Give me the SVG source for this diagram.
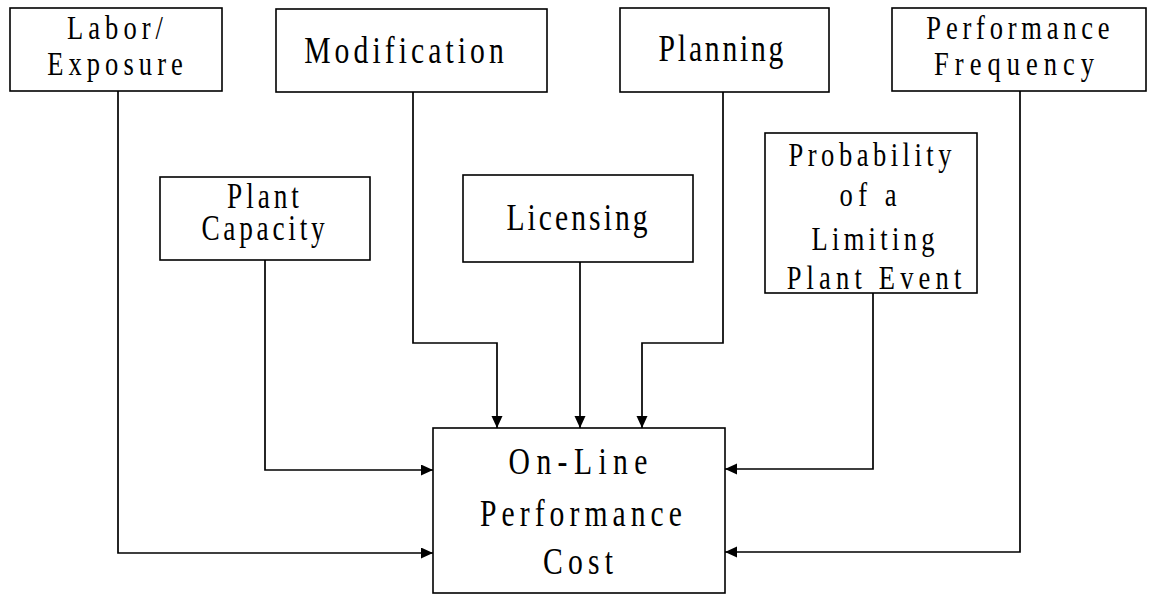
<svg xmlns="http://www.w3.org/2000/svg" width="1152" height="595" viewBox="0 0 1152 595">
  <style>
    .box { fill: #fff; stroke: #000; stroke-width: 1.6; }
    .lbl { font-family: "Liberation Serif", "Times New Roman", serif; fill: #000; text-anchor: middle; }
    .s34 { font-size: 34px; }
    .s35 { font-size: 35px; }
    .s38 { font-size: 38px; }
    .wire { fill: none; stroke: #000; stroke-width: 1.7; marker-end: url(#arrow); }
  </style>
  <defs>
    <marker id="arrow" markerUnits="userSpaceOnUse" markerWidth="13" markerHeight="12" refX="12" refY="5.5" orient="auto">
      <path d="M0,0 L12,5.5 L0,11 z" fill="#000"/>
    </marker>
  </defs>
  <rect width="1152" height="595" fill="#fff"/>

  <!-- connectors -->
  <g id="connectors">
    <path class="wire" d="M118,91 V553 H433"/>
    <path class="wire" d="M413,92 V343 H497 V428"/>
    <path class="wire" d="M723,92 V343 H642 V428"/>
    <path class="wire" d="M580,262 V428"/>
    <path class="wire" d="M265,260 V470 H433"/>
    <path class="wire" d="M873,293 V469 H725"/>
    <path class="wire" d="M1020,91 V552 H725"/>
  </g>

  <g id="labor-exposure">
    <rect class="box" x="10" y="8" width="212" height="83"/>
    <text class="lbl s34" transform="translate(115 39) scale(0.78 1)" textLength="123" lengthAdjust="spacing">Labor/</text>
    <text class="lbl s34" transform="translate(115 75) scale(0.78 1)" textLength="174" lengthAdjust="spacing">Exposure</text>
  </g>

  <g id="modification">
    <rect class="box" x="276" y="9" width="271" height="83"/>
    <text class="lbl s38" transform="translate(404 63) scale(0.78 1)" textLength="256" lengthAdjust="spacing">Modification</text>
  </g>

  <g id="planning">
    <rect class="box" x="620" y="8" width="209" height="84"/>
    <text class="lbl s38" transform="translate(721 61) scale(0.78 1)" textLength="160" lengthAdjust="spacing">Planning</text>
  </g>

  <g id="performance-frequency">
    <rect class="box" x="892" y="8" width="254" height="83"/>
    <text class="lbl s34" transform="translate(1018 39) scale(0.78 1)" textLength="235" lengthAdjust="spacing">Performance</text>
    <text class="lbl s34" transform="translate(1014 75) scale(0.78 1)" textLength="205" lengthAdjust="spacing">Frequency</text>
  </g>

  <g id="plant-capacity">
    <rect class="box" x="160" y="177" width="210" height="83"/>
    <text class="lbl s35" transform="translate(263 208) scale(0.78 1)" textLength="92" lengthAdjust="spacing">Plant</text>
    <text class="lbl s35" transform="translate(263 240) scale(0.78 1)" textLength="158" lengthAdjust="spacing">Capacity</text>
  </g>

  <g id="licensing">
    <rect class="box" x="463" y="175" width="230" height="87"/>
    <text class="lbl s38" transform="translate(577 230) scale(0.78 1)" textLength="181" lengthAdjust="spacing">Licensing</text>
  </g>

  <g id="limiting-event-probability">
    <rect class="box" x="765" y="133" width="212" height="160"/>
    <text class="lbl s34" transform="translate(870 166) scale(0.78 1)" textLength="209" lengthAdjust="spacing">Probability</text>
    <text class="lbl s34" transform="translate(868 206) scale(0.78 1)" textLength="73" lengthAdjust="spacing">of a</text>
    <text class="lbl s34" transform="translate(873 250) scale(0.78 1)" textLength="158" lengthAdjust="spacing">Limiting</text>
    <text class="lbl s34" transform="translate(874 289) scale(0.78 1)" textLength="224" lengthAdjust="spacing">Plant Event</text>
  </g>

  <g id="online-performance-cost">
    <rect class="box" x="433" y="428" width="292" height="165"/>
    <text class="lbl s38" transform="translate(578 474) scale(0.78 1)" textLength="178" lengthAdjust="spacing">On-Line</text>
    <text class="lbl s38" transform="translate(581 526) scale(0.78 1)" textLength="259" lengthAdjust="spacing">Performance</text>
    <text class="lbl s38" transform="translate(578 574) scale(0.78 1)" textLength="90" lengthAdjust="spacing">Cost</text>
  </g>
</svg>
